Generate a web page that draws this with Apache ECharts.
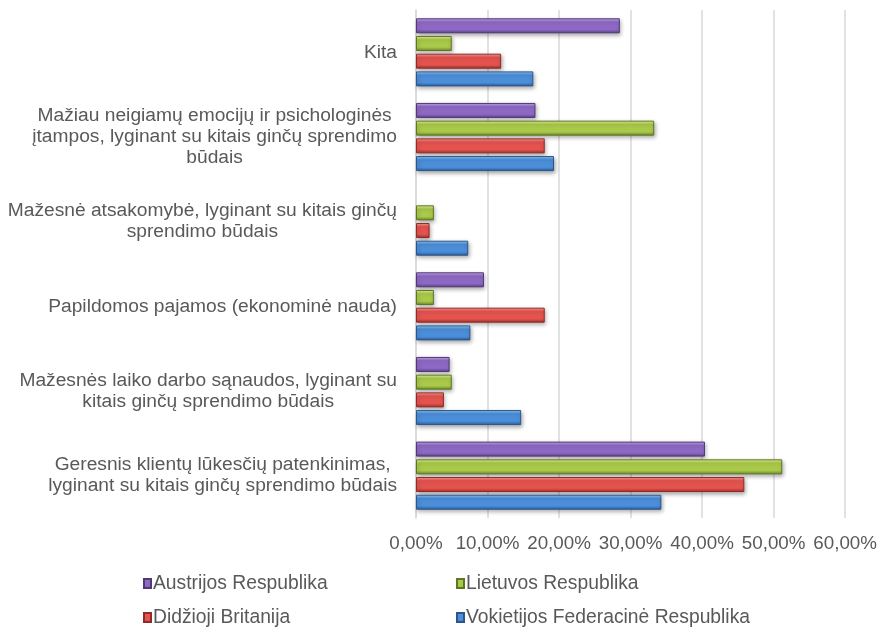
<!DOCTYPE html>
<html>
<head>
<meta charset="utf-8">
<script src="https://cdn.jsdelivr.net/npm/echarts@6/dist/echarts.min.js"></script>
<style>
  html, body { margin: 0; padding: 0; background: #ffffff; }
  #chart { width: 880px; height: 627px; }
</style>
</head>
<body>
<div id="chart"></div>
<script>
// Categories, listed bottom to top on the vertical axis
const categories = [
  'Geresnis klientų lūkesčių patenkinimas,\nlyginant su kitais ginčų sprendimo būdais',
  'Mažesnės laiko darbo sąnaudos, lyginant su\nkitais ginčų sprendimo būdais',
  'Papildomos pajamos (ekonominė nauda)',
  'Mažesnė atsakomybė, lyginant su kitais ginčų\nsprendimo būdais',
  'Mažiau neigiamų emocijų ir psichologinės\nįtampos, lyginant su kitais ginčų sprendimo\nbūdais',
  'Kita'
];

// Shares in percent, one value per category (same order as above)
const austrija  = [40.4, 4.7, 9.5, 0, 16.7, 28.5];
const lietuva   = [51.2, 5.0, 2.5, 2.5, 33.3, 5.0];
const britanija = [45.9, 3.9, 18.0, 1.9, 18.0, 11.9];
const vokietija = [34.3, 14.7, 7.6, 7.3, 19.3, 16.4];

// Series in drawing order: the first one sits on top within each group
const seriesNames = [
  'Austrijos Respublika',
  'Lietuvos Respublika',
  'Didžioji Britanija',
  'Vokietijos Federacinė Respublika'
];
const seriesData = [austrija, lietuva, britanija, vokietija];

const xTicks = [0, 10, 20, 30, 40, 50, 60];

const FONT = '"Liberation Sans", Arial, sans-serif';
const TEXT_COLOR = '#595959';
const LABEL_SIZE = 19.2;

// Bevelled bar fill: light top edge, darker bottom edge
function bevel(light, mid, dark) {
  return new echarts.graphic.LinearGradient(0, 0, 0, 1, [
    { offset: 0, color: light },
    { offset: 0.25, color: mid },
    { offset: 0.75, color: mid },
    { offset: 1, color: dark }
  ]);
}

const palette = [
  { fill: bevel('#cbaef5', '#8e69c4', '#5d4388'), border: '#4f3a73' },
  { fill: bevel('#e8f996', '#a9c94a', '#6f8a26'), border: '#5f7624' },
  { fill: bevel('#fca19d', '#e4534e', '#a22f2b'), border: '#8f2b28' },
  { fill: bevel('#95caf7', '#4b8ed9', '#2d5d99'), border: '#2b568c' }
];

function makeSeries(idx) {
  const p = palette[idx];
  return {
    name: seriesNames[idx],
    type: 'bar',
    barWidth: 15,
    barGap: '18%',
    data: seriesData[idx].map(v => v === 0
      ? { value: v, itemStyle: { borderWidth: 0, shadowBlur: 0, shadowColor: 'transparent' } }
      : v),
    itemStyle: {
      color: p.fill,
      borderColor: p.border,
      borderWidth: 1,
      shadowBlur: 4,
      shadowOffsetX: 1,
      shadowOffsetY: 2,
      shadowColor: 'rgba(0,0,0,0.32)'
    },
    emphasis: { disabled: true },
    animation: false
  };
}

// One legend per slot to keep the two-column layout
const legendSlots = [
  { name: 'Austrijos Respublika', left: 143, top: 574 },
  { name: 'Lietuvos Respublika', left: 456, top: 574 },
  { name: 'Didžioji Britanija', left: 143, top: 608 },
  { name: 'Vokietijos Federacinė Respublika', left: 456, top: 608 }
];

const legends = legendSlots.map(s => ({
  data: [s.name],
  left: s.left,
  top: s.top,
  orient: 'horizontal',
  icon: 'rect',
  itemWidth: 7,
  itemHeight: 9,
  itemGap: 0,
  padding: 0,
  selectedMode: false,
  textStyle: {
    fontFamily: FONT,
    fontSize: 19.3,
    color: TEXT_COLOR,
    padding: [0, 0, 0, -3]
  }
}));

const chart = echarts.init(document.getElementById('chart'), null, { renderer: 'canvas' });

chart.setOption({
  backgroundColor: '#ffffff',
  animation: false,
  legend: legends,
  grid: {
    left: 416,
    right: 33,
    top: 10,
    bottom: 109,
    containLabel: false
  },
  xAxis: {
    type: 'value',
    min: xTicks[0],
    max: xTicks[xTicks.length - 1],
    interval: 10,
    axisLine: { show: false },
    axisTick: { show: false },
    splitLine: { show: true, lineStyle: { color: '#d9d9d9', width: 1.5 } },
    axisLabel: {
      margin: 16,
      fontFamily: FONT,
      fontSize: 18.8,
      color: TEXT_COLOR,
      formatter: v => v.toFixed(2).replace('.', ',') + '%'
    }
  },
  yAxis: {
    type: 'category',
    data: categories,
    axisLine: { show: true, lineStyle: { color: '#d9d9d9', width: 1.5 } },
    axisTick: { show: false },
    axisLabel: {
      margin: 19,
      align: 'right',
      fontFamily: FONT,
      fontSize: LABEL_SIZE,
      lineHeight: 21,
      color: TEXT_COLOR,
      formatter: v => v.split('\n').map(line => '{c|' + line + '}').join('\n'),
      rich: {
        c: {
          align: 'center',
          fontFamily: FONT,
          fontSize: LABEL_SIZE,
          lineHeight: 21,
          color: TEXT_COLOR
        }
      }
    }
  },
  series: [0, 1, 2, 3].map(makeSeries)
});
</script>
</body>
</html>
